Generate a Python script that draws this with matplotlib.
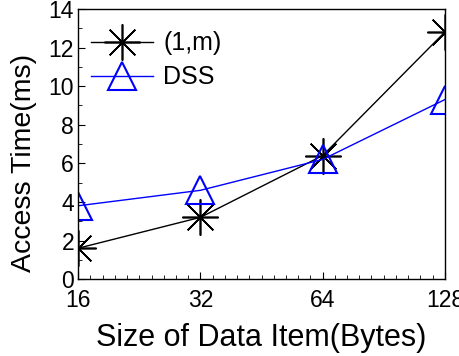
import matplotlib
matplotlib.use('Agg')
import matplotlib.pyplot as plt
from matplotlib.ticker import AutoMinorLocator, MultipleLocator

plt.rcParams['font.family'] = ['Liberation Sans', 'DejaVu Sans']

sizes = ['16', '32', '64', '128']
one_m = [1.6, 3.2, 6.4, 12.8]
dss = [3.8, 4.6, 6.2, 9.3]

xs = list(range(len(sizes)))

fig = plt.figure(figsize=(4.6, 3.56), dpi=100)
ax = fig.add_axes([0.17, 0.216, 0.797, 0.759])

l1, = ax.plot(xs, one_m, color='black', linewidth=1, marker=(8, 2, 0), markersize=26,
              markeredgewidth=1.2, label='(1,m)')
l2, = ax.plot(xs, dss, color='#0000ff', linewidth=1, marker='^', markersize=20,
              markerfacecolor='none', markeredgewidth=1.5, label='DSS')
# markers get cut at the frame like in the original
for ln in (l1, l2):
    ln.set_clip_path(ax.patch)

ax.set_xlim(0, 3)
ax.set_ylim(0, 14)
ax.set_xticks(xs)
ax.set_xticklabels(sizes)
ax.yaxis.set_major_locator(MultipleLocator(2))
ax.yaxis.set_minor_locator(AutoMinorLocator(2))
ax.xaxis.set_minor_locator(AutoMinorLocator(10))
ax.tick_params(which='both', direction='in', labelsize=16.5, top=False, right=False)
ax.tick_params(axis='x', pad=7)
ax.tick_params(axis='y', pad=3)
ax.tick_params(which='major', length=5)
ax.tick_params(which='minor', length=3)
for s in ax.spines.values():
    s.set_linewidth(1)

ax.set_xlabel('Size of Data Item(Bytes)', fontsize=22, labelpad=8)
ax.set_ylabel('Access Time(ms)', fontsize=20.5)
ax.yaxis.set_label_coords(-0.112, 0.43)

ax.legend(loc='upper left', bbox_to_anchor=(-0.027, 1.0), frameon=False, fontsize=18,
          handlelength=2.5, handletextpad=0.4, labelspacing=0.4, borderaxespad=0.5)

fig.savefig('out.png', dpi=100)
